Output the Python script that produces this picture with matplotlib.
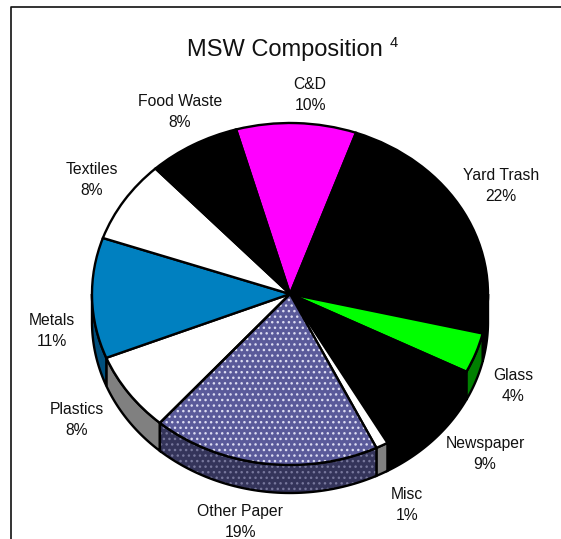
import numpy as np
import matplotlib
matplotlib.use('Agg')
import matplotlib.pyplot as plt
from matplotlib.patches import Polygon, Wedge

plt.rcParams['font.family'] = ['Liberation Sans', 'DejaVu Sans']
plt.rcParams['hatch.linewidth'] = 1.0

categorias = ['C&D', 'Yard Trash', 'Glass', 'Newspaper', 'Misc', 'Other Paper',
              'Plastics', 'Metals', 'Textiles', 'Food Waste']
rotulos = ['10%', '22%', '4%', '9%', '1%', '19%', '8%', '11%', '8%', '8%']
# fatias (a perspectiva distorce um pouco em relacao aos rotulos)
fatias = [9.8, 23.3, 3.8, 9.3, 1.0, 18.6, 7.5, 11.4, 7.8, 7.5]

cores_topo = ['#ff00ff', '#000000', '#00ff00', '#000000', '#ffffff', '#5a5a9a',
              '#ffffff', '#0080c0', '#ffffff', '#000000']
cores_lado = ['#800080', '#000000', '#008000', '#000000', '#808080', '#34345a',
              '#808080', '#004f7d', '#808080', '#000000']

# posicao dos rotulos em pixels da imagem
pos_rotulos = [(310, 95), (501, 186), (513, 386), (485, 454), (407, 505),
               (240, 522), (77, 420), (52, 331), (92, 180), (180, 112)]

W, H = 561, 539
INICIO = 105.8  # graus, sentido anti-horario a partir do eixo x
PROF = 28 / 171  # altura da lateral em unidades do raio vertical
LW = 1.7

fig = plt.figure(figsize=(W / 100, H / 100), dpi=100, facecolor='white')

# moldura cortada, so esquerda e topo aparecem
fig.add_artist(plt.Line2D([11 / W, 11 / W, 1], [0, 1 - 6.5 / H, 1 - 6.5 / H],
                          color='#111111', lw=1.2))

ax = fig.add_axes([92 / W, 1 - 465 / H, 396 / W, 342 / H])
wedges, _ = ax.pie(fatias, colors=cores_topo, startangle=INICIO, counterclock=False,
                   radius=1, wedgeprops={'edgecolor': 'black', 'linewidth': LW, 'zorder': 5})
ax.set_aspect('auto')
ax.set_xlim(-1, 1)
ax.set_ylim(-1, 1)

# lateral do disco, so a parte de baixo fica visivel
limites = 90 - INICIO + np.cumsum([0] + fatias) / sum(fatias) * 360
for i, nome in enumerate(categorias):
    a = max(limites[i], 90)
    b = min(limites[i + 1], 270)
    if a >= b:
        continue
    t = np.radians(np.linspace(a, b, 60))
    x = np.sin(t)
    y = np.cos(t)
    pts = np.column_stack([np.r_[x, x[::-1]], np.r_[y, y[::-1] - PROF]])
    if nome == 'Other Paper':
        ax.add_patch(Polygon(pts, closed=True, facecolor=cores_lado[i], edgecolor='#77779c',
                             hatch='...', lw=0, zorder=2, clip_on=False))
        ax.add_patch(Polygon(pts, closed=True, fill=False, edgecolor='black', lw=LW,
                             zorder=3, clip_on=False))
    else:
        ax.add_patch(Polygon(pts, closed=True, facecolor=cores_lado[i], edgecolor='black',
                             lw=LW, zorder=2, clip_on=False))

# pontilhado branco da fatia Other Paper
w = wedges[categorias.index('Other Paper')]
w.set(edgecolor='#dcdcf2', hatch='...', linewidth=0)
ax.add_patch(Wedge(w.center, w.r, w.theta1, w.theta2, fill=False, edgecolor='black',
                   lw=LW, zorder=6))
for w in wedges:
    w.set_clip_on(False)

fig.text(285 / W, 1 - 50 / H, 'MSW Composition', fontsize=17, ha='center', va='center',
         color='#111111')
fig.text(394 / W, 1 - 43 / H, '4', fontsize=10.5, ha='center', va='center', color='#111111')

for nome, rot, (px, py) in zip(categorias, rotulos, pos_rotulos):
    fig.text(px / W, 1 - py / H, nome + '\n' + rot, fontsize=11.3, ha='center', va='center',
             linespacing=1.5, color='#111111')

fig.savefig('out.png', dpi=100)
